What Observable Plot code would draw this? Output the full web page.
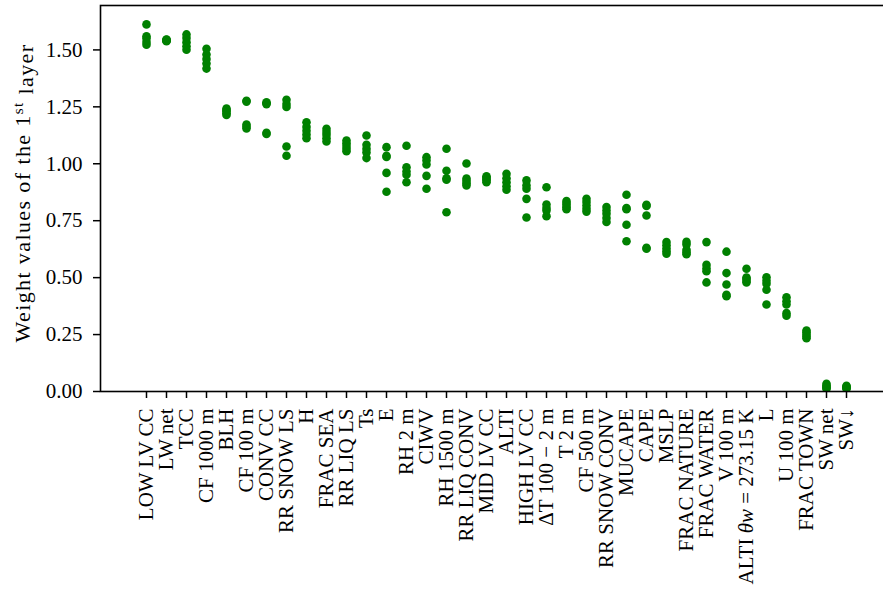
<!DOCTYPE html>
<html>
<head>
<meta charset="utf-8">
<script src="https://cdn.jsdelivr.net/npm/d3@7"></script>
<script src="https://cdn.jsdelivr.net/npm/@observablehq/plot@0.6"></script>
<style>
  html, body { margin: 0; padding: 0; background: #fff; overflow: hidden; }
  #chart svg { display: block; max-width: none !important; }
</style>
</head>
<body>
<div id="chart"></div>
<script>
// Input features, ordered by decreasing first-layer weight
const categories = [
  "LOW LV CC", "LW net", "TCC", "CF 1000 m", "BLH", "CF 100 m", "CONV CC",
  "RR SNOW LS", "H", "FRAC SEA", "RR LIQ LS", "Ts", "E", "RH 2 m", "CIWV",
  "RH 1500 m", "RR LIQ CONV", "MID LV CC", "ALTI", "HIGH LV CC",
  "ΔT 100 − 2 m", "T 2 m", "CF 500 m", "RR SNOW CONV", "MUCAPE", "CAPE",
  "MSLP", "FRAC NATURE", "FRAC WATER", "V 100 m", "ALTI θw = 273.15 K", "L",
  "U 100 m", "FRAC TOWN", "SW net", "SW↓"
];

// Weight values of the first layer, one list per feature (same order as above)
const weights = [
  [1.612, 1.560, 1.550, 1.535, 1.523],
  [1.546, 1.544, 1.542, 1.540, 1.538],
  [1.568, 1.552, 1.534, 1.516, 1.501],
  [1.505, 1.480, 1.460, 1.440, 1.418],
  [1.242, 1.236, 1.230, 1.222, 1.214],
  [1.277, 1.273, 1.172, 1.163, 1.155],
  [1.270, 1.266, 1.262, 1.136, 1.131],
  [1.281, 1.262, 1.249, 1.076, 1.035],
  [1.182, 1.162, 1.145, 1.128, 1.112],
  [1.154, 1.140, 1.127, 1.112, 1.098],
  [1.102, 1.090, 1.078, 1.066, 1.055],
  [1.124, 1.083, 1.066, 1.050, 1.025],
  [1.073, 1.035, 1.030, 0.960, 0.877],
  [1.079, 0.985, 0.966, 0.952, 0.919],
  [1.029, 1.014, 0.997, 0.947, 0.890],
  [1.066, 0.969, 0.936, 0.930, 0.787],
  [1.001, 0.935, 0.925, 0.915, 0.905],
  [0.945, 0.939, 0.933, 0.926, 0.919],
  [0.956, 0.936, 0.919, 0.901, 0.886],
  [0.927, 0.905, 0.890, 0.846, 0.764],
  [0.897, 0.821, 0.806, 0.795, 0.770],
  [0.836, 0.828, 0.819, 0.809, 0.800],
  [0.846, 0.832, 0.817, 0.802, 0.790],
  [0.810, 0.795, 0.780, 0.762, 0.744],
  [0.864, 0.806, 0.800, 0.732, 0.660],
  [0.820, 0.815, 0.773, 0.631, 0.627],
  [0.656, 0.642, 0.628, 0.616, 0.605],
  [0.657, 0.645, 0.622, 0.612, 0.603],
  [0.656, 0.556, 0.540, 0.528, 0.479],
  [0.614, 0.520, 0.470, 0.425, 0.418],
  [0.539, 0.500, 0.495, 0.485, 0.479],
  [0.502, 0.486, 0.473, 0.447, 0.382],
  [0.414, 0.396, 0.382, 0.344, 0.333],
  [0.268, 0.260, 0.250, 0.241, 0.234],
  [0.034, 0.026, 0.021, 0.016, 0.012],
  [0.025, 0.021, 0.018, 0.015, 0.012]
];

const yTicks = [0, 0.25, 0.5, 0.75, 1.0, 1.25, 1.5];

const rows = categories.flatMap((feature, i) =>
  weights[i].map(weight => ({feature, weight}))
);

const FONT = "'Liberation Serif', 'DejaVu Serif', serif";
const FS = 21;

const chart = Plot.plot({
  width: 900,
  height: 594,
  marginLeft: 100,
  marginRight: 8,
  marginTop: 5,
  marginBottom: 203,
  style: {fontFamily: FONT, fontSize: FS + "px", color: "black", background: "white", maxWidth: "none"},
  x: {type: "point", domain: categories, padding: 1.75, label: null},
  y: {domain: [0, 1.695], label: null},
  marks: [
    Plot.dot(rows, {x: "feature", y: "weight", r: 4.3, fill: "green", stroke: "none", clip: true}),
    Plot.frame({stroke: "black", strokeWidth: 1.6}),
    Plot.axisY({
      ticks: yTicks, tickFormat: d3.format(".2f"), fontSize: FS,
      tickSize: 7, tickPadding: 11, strokeWidth: 1.5, label: null
    }),
    Plot.axisX({
      tickRotate: -90, fontSize: FS, tickSize: 7, tickPadding: 10, strokeWidth: 1.5, label: null
    })
  ]
});

const svg = d3.select(chart);

// Italic θw in the freezing-level feature name
svg.selectAll("text")
  .filter(function () { return this.textContent === "ALTI θw = 273.15 K"; })
  .each(function () {
    const t = d3.select(this);
    t.text(null);
    t.append("tspan").text("ALTI ");
    t.append("tspan").attr("font-style", "italic").text("θw");
    t.append("tspan").text(" = 273.15 K");
  });

// Y-axis title with superscript ordinal
const ylab = svg.append("text")
  .attr("transform", "translate(30,193) rotate(-90)")
  .attr("text-anchor", "middle")
  .attr("font-family", FONT)
  .attr("font-size", 22)
  .attr("letter-spacing", "1.4px")
  .attr("fill", "black");
ylab.append("tspan").text("Weight values of the 1");
ylab.append("tspan").attr("font-size", 15).attr("dy", "-0.45em").text("st");
ylab.append("tspan").attr("dy", "0.45em").text(" layer");

document.getElementById("chart").appendChild(chart);
</script>
</body>
</html>
